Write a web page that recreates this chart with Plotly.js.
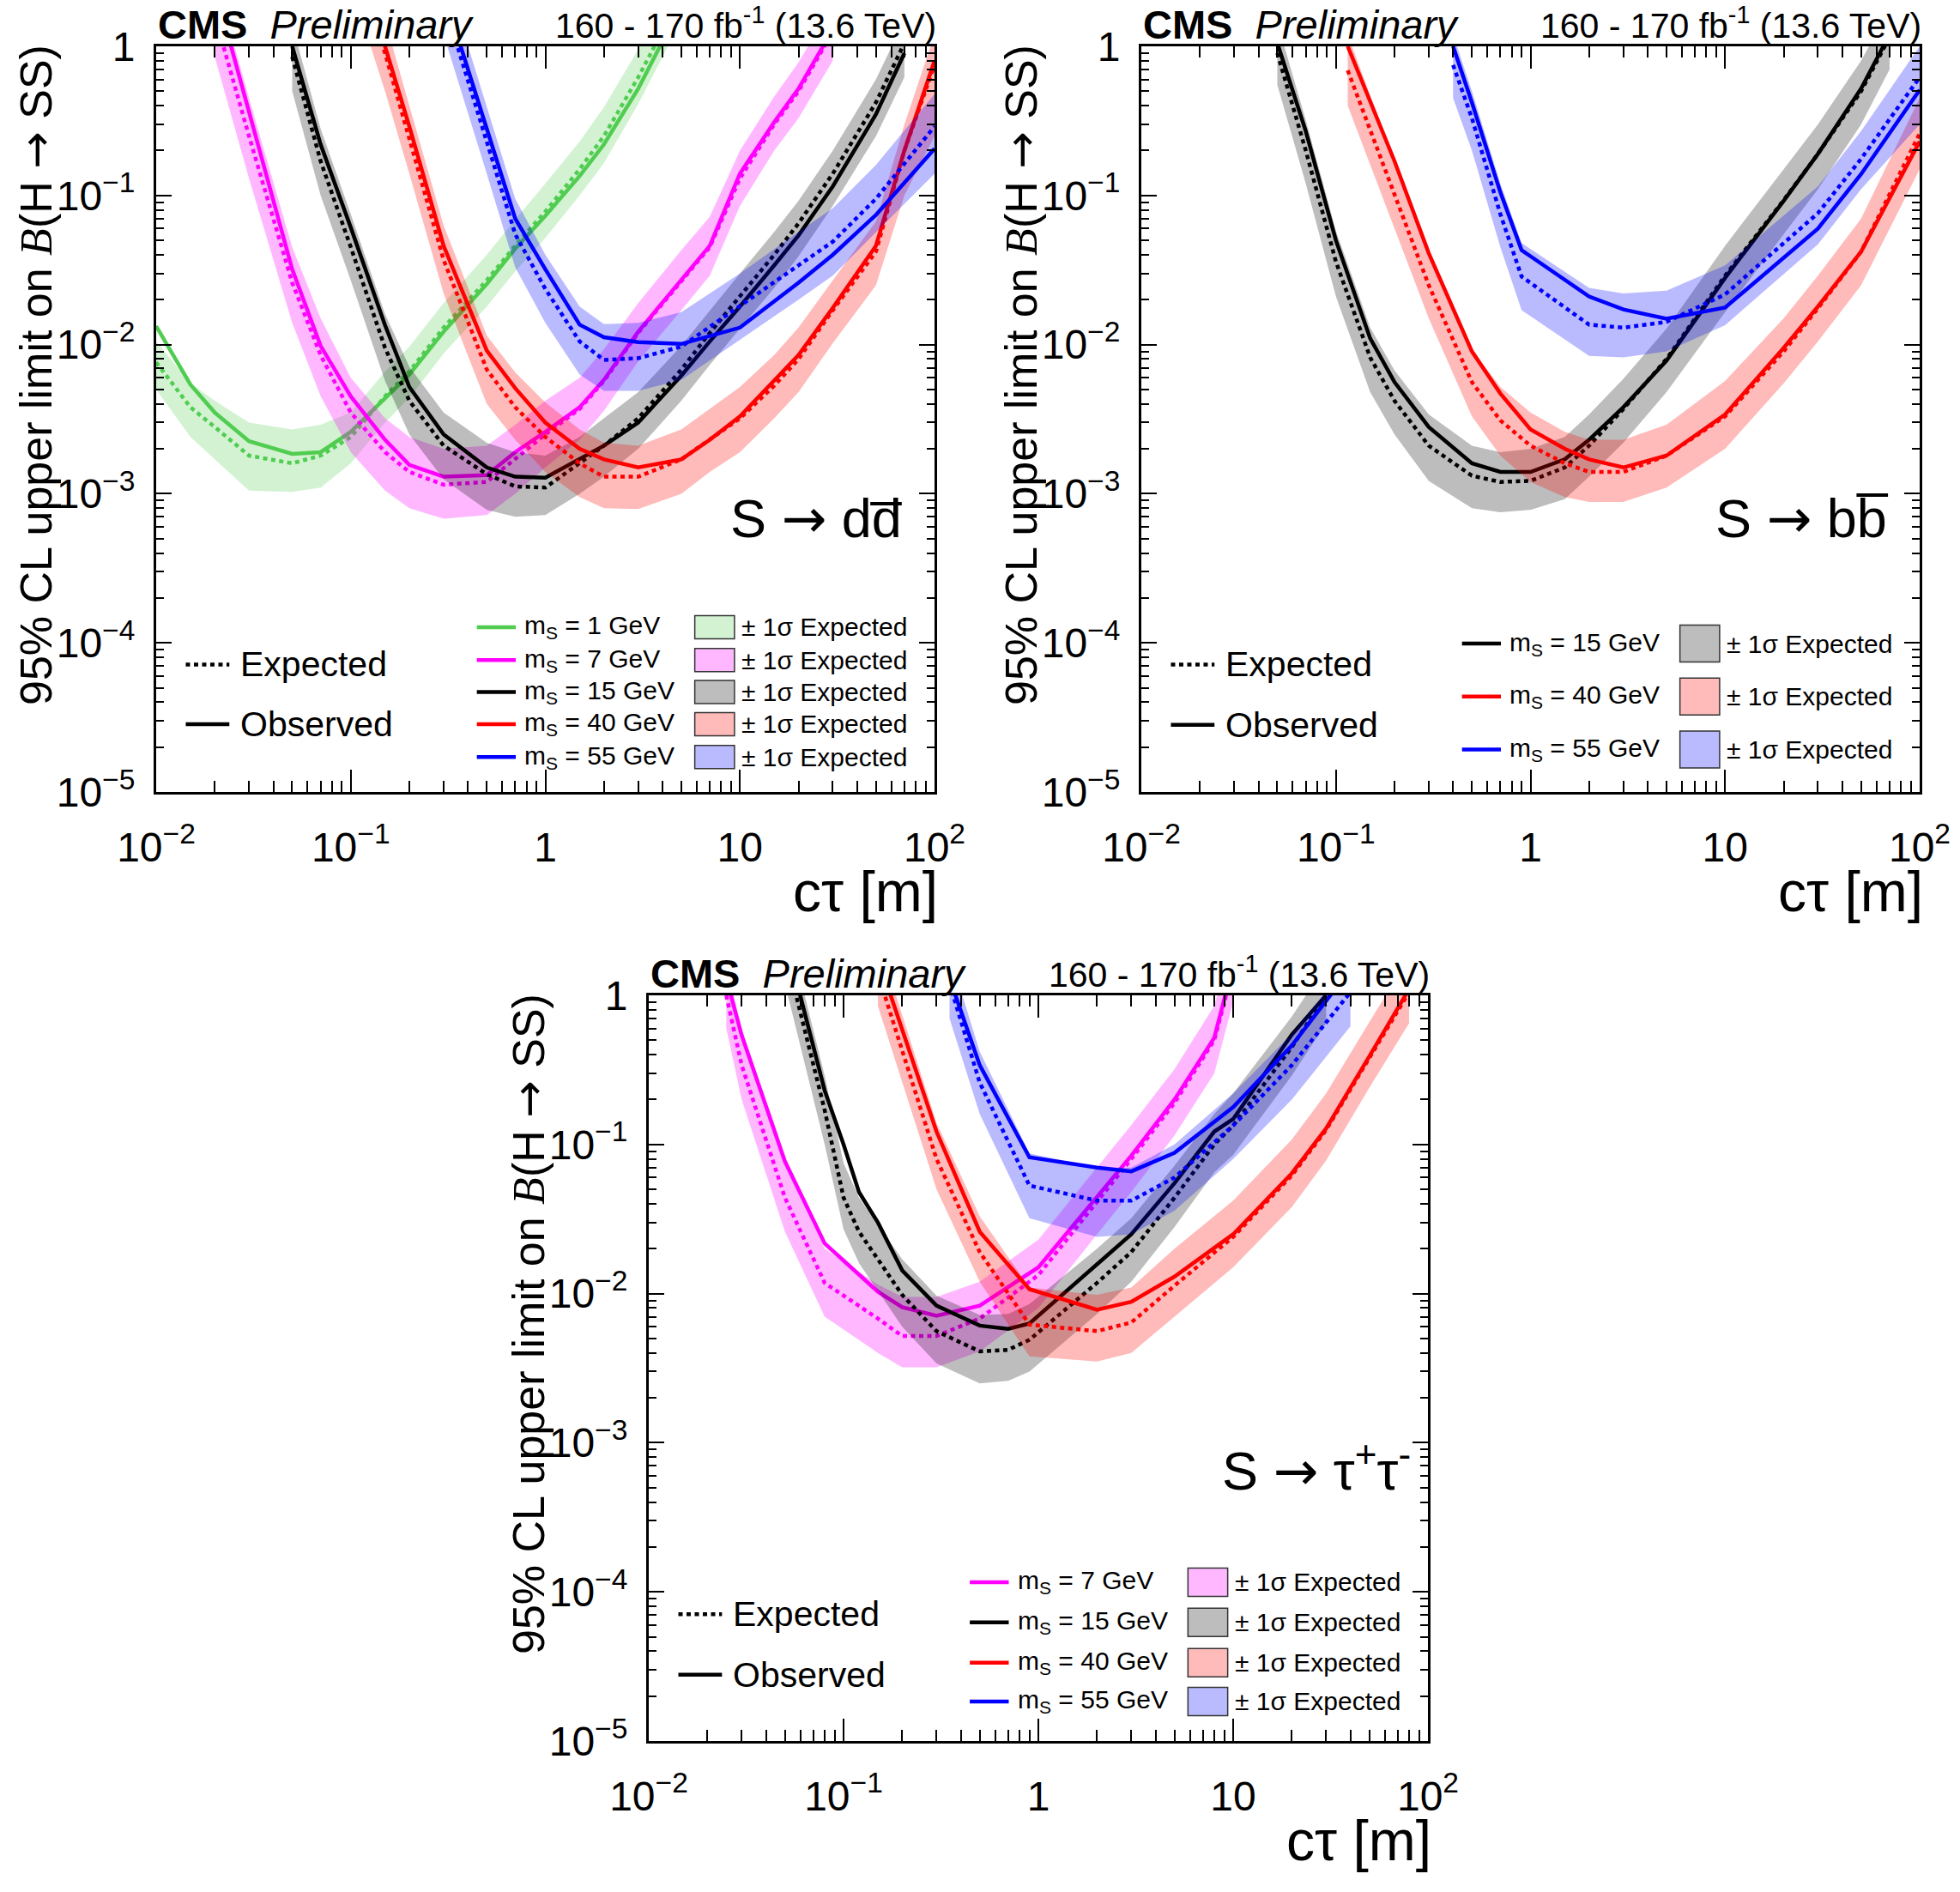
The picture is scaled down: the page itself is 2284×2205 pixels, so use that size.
<!DOCTYPE html>
<html>
<head>
<meta charset="utf-8">
<script src="https://cdn.plot.ly/plotly-3.0.1.min.js"></script>
<style>body{margin:0;background:#fff}</style>
</head>
<body>
<div id="chart" style="width:2284px;height:2205px"></div>
<script>
// ---------- S -> d dbar ----------
var dd_m1_ct  = [0.01, 0.015, 0.02, 0.03, 0.05, 0.07, 0.1, 0.15, 0.2, 0.3, 0.5, 0.7, 1, 1.5, 2, 3, 5]
var dd_m1_obs = [0.0133, 0.0054, 0.0035, 0.00225, 0.00185, 0.0019, 0.0026, 0.0044, 0.0063, 0.0122, 0.0255, 0.044, 0.073, 0.135, 0.22, 0.52, 1.9]
var dd_m1_exp = [0.0076, 0.0038, 0.0028, 0.0018, 0.0016, 0.0018, 0.0024, 0.0045, 0.0066, 0.013, 0.027, 0.046, 0.078, 0.15, 0.25, 0.62, 2.2]
var dd_m1_hi  = [0.0105, 0.0055, 0.0042, 0.003, 0.0027, 0.0029, 0.0035, 0.0066, 0.0097, 0.019, 0.04, 0.069, 0.12, 0.23, 0.39, 0.95, 3.3]
var dd_m1_lo  = [0.005, 0.0024, 0.0017, 0.00105, 0.00103, 0.0011, 0.0016, 0.003, 0.0044, 0.0087, 0.018, 0.031, 0.052, 0.1, 0.165, 0.41, 1.5]

var dd_m7_ct  = [0.02, 0.03, 0.05, 0.07, 0.1, 0.15, 0.2, 0.3, 0.5, 0.7, 1, 1.5, 2, 3, 5, 7, 10, 15, 20, 30]
var dd_m7_obs = [2.5, 0.37, 0.032, 0.0098, 0.0045, 0.0023, 0.00156, 0.0013, 0.00133, 0.0019, 0.0026, 0.0038, 0.0058, 0.0122, 0.0274, 0.046, 0.14, 0.31, 0.52, 1.3]
var dd_m7_exp = [1.6, 0.25, 0.026, 0.0085, 0.0035, 0.0019, 0.0014, 0.00115, 0.0012, 0.0017, 0.0025, 0.0037, 0.0057, 0.012, 0.027, 0.045, 0.13, 0.3, 0.5, 1.25]
var dd_m7_hi  = [3, 0.45, 0.045, 0.015, 0.006, 0.0032, 0.0024, 0.002, 0.0021, 0.0029, 0.0042, 0.006, 0.0093, 0.019, 0.043, 0.072, 0.2, 0.46, 0.78, 1.9]
var dd_m7_lo  = [0.85, 0.13, 0.014, 0.0045, 0.0019, 0.00105, 0.0008, 0.00068, 0.00072, 0.001, 0.0015, 0.0023, 0.0036, 0.0077, 0.017, 0.029, 0.085, 0.2, 0.33, 0.8]

var dd_m15_ct  = [0.05, 0.07, 0.1, 0.15, 0.2, 0.3, 0.5, 0.7, 1, 1.5, 2, 3, 5, 7, 10, 15, 20, 30, 50, 70]
var dd_m15_obs = [1.0, 0.22, 0.061, 0.0135, 0.0052, 0.0025, 0.0015, 0.0013, 0.00128, 0.0017, 0.0021, 0.003, 0.0062, 0.0105, 0.018, 0.034, 0.054, 0.115, 0.35, 0.9]
var dd_m15_exp = [0.85, 0.17, 0.045, 0.0095, 0.0042, 0.0021, 0.00135, 0.00112, 0.0011, 0.0016, 0.0021, 0.0032, 0.0068, 0.012, 0.021, 0.04, 0.065, 0.14, 0.42, 1.05]
var dd_m15_hi  = [1.4, 0.28, 0.075, 0.016, 0.0071, 0.0035, 0.0022, 0.0019, 0.0018, 0.0024, 0.0032, 0.0048, 0.0098, 0.017, 0.03, 0.057, 0.092, 0.2, 0.6, 1.5]
var dd_m15_lo  = [0.5, 0.1, 0.027, 0.0057, 0.0025, 0.00125, 0.00078, 0.0007, 0.00072, 0.001, 0.0013, 0.002, 0.0042, 0.0073, 0.0128, 0.024, 0.039, 0.085, 0.25, 0.62]

var dd_m40_ct  = [0.1, 0.15, 0.2, 0.3, 0.5, 0.7, 1, 1.5, 2, 3, 5, 7, 10, 15, 20, 30, 50, 70, 100]
var dd_m40_obs = [5, 1.0, 0.29, 0.046, 0.0091, 0.0051, 0.003, 0.002, 0.0017, 0.0015, 0.0017, 0.0023, 0.0033, 0.0057, 0.0085, 0.0176, 0.046, 0.2, 0.8]
var dd_m40_exp = [4.5, 0.9, 0.24, 0.037, 0.0068, 0.0038, 0.0024, 0.0016, 0.0013, 0.0013, 0.0017, 0.0023, 0.0032, 0.0053, 0.008, 0.017, 0.042, 0.2, 0.75]
var dd_m40_hi  = [7, 1.5, 0.4, 0.063, 0.0115, 0.0065, 0.0041, 0.0027, 0.0022, 0.0021, 0.0027, 0.0037, 0.0052, 0.0085, 0.013, 0.027, 0.067, 0.3, 1.2]
var dd_m40_lo  = [2.6, 0.5, 0.14, 0.022, 0.004, 0.0023, 0.0014, 0.00095, 0.0008, 0.00079, 0.001, 0.0014, 0.0019, 0.0032, 0.0048, 0.0102, 0.025, 0.1, 0.25]

var dd_m55_ct  = [0.3, 0.5, 0.7, 1, 1.5, 2, 3, 5, 10, 20, 30, 50, 100]
var dd_m55_obs = [2.3, 0.28, 0.07, 0.032, 0.0136, 0.0112, 0.0104, 0.0101, 0.013, 0.026, 0.04, 0.074, 0.206]
var dd_m55_exp = [2.0, 0.23, 0.055, 0.0236, 0.0105, 0.0079, 0.0081, 0.0097, 0.018, 0.034, 0.049, 0.095, 0.29]
var dd_m55_hi  = [3.4, 0.4, 0.095, 0.04, 0.018, 0.0137, 0.014, 0.0165, 0.03, 0.057, 0.082, 0.16, 0.48]
var dd_m55_lo  = [1.2, 0.14, 0.033, 0.014, 0.0063, 0.0049, 0.0049, 0.0058, 0.0108, 0.02, 0.029, 0.057, 0.14]

// ---------- S -> b bbar ----------
var bb_m15_ct  = [0.05, 0.07, 0.1, 0.15, 0.2, 0.3, 0.5, 0.7, 1, 1.5, 2, 3, 5, 10, 20, 30, 50, 70]
var bb_m15_obs = [1.05, 0.27, 0.05, 0.011, 0.0056, 0.0028, 0.0016, 0.0014, 0.0014, 0.0017, 0.0023, 0.0038, 0.0078, 0.028, 0.092, 0.19, 0.52, 1.2]
var bb_m15_exp = [0.9, 0.2, 0.036, 0.0082, 0.0042, 0.0021, 0.00132, 0.0012, 0.00122, 0.0015, 0.0021, 0.0037, 0.008, 0.029, 0.093, 0.19, 0.5, 1.15]
var bb_m15_hi  = [1.45, 0.32, 0.058, 0.013, 0.0067, 0.0034, 0.0021, 0.0019, 0.002, 0.0024, 0.0034, 0.0059, 0.0128, 0.046, 0.15, 0.3, 0.8, 1.8]
var bb_m15_lo  = [0.55, 0.12, 0.021, 0.0048, 0.0025, 0.00122, 0.0008, 0.00075, 0.00078, 0.00092, 0.0013, 0.0022, 0.0048, 0.0165, 0.055, 0.11, 0.3, 0.7]

var bb_m40_ct  = [0.115, 0.2, 0.3, 0.5, 0.7, 1, 1.5, 2, 3, 5, 10, 20, 30, 50, 100]
var bb_m40_obs = [1.0, 0.17, 0.041, 0.009, 0.0047, 0.0027, 0.002, 0.0017, 0.0015, 0.0018, 0.0034, 0.0095, 0.018, 0.042, 0.23]
var bb_m40_exp = [0.69, 0.1, 0.025, 0.0056, 0.0031, 0.0021, 0.0016, 0.0014, 0.0014, 0.0018, 0.0033, 0.009, 0.0175, 0.042, 0.26]
var bb_m40_hi  = [1.2, 0.17, 0.042, 0.0092, 0.0052, 0.0035, 0.0026, 0.0023, 0.0023, 0.0029, 0.0057, 0.015, 0.029, 0.07, 0.45]
var bb_m40_lo  = [0.4, 0.06, 0.015, 0.0033, 0.0018, 0.0012, 0.00095, 0.00088, 0.00088, 0.0011, 0.002, 0.0055, 0.0105, 0.025, 0.15]

var bb_m55_ct  = [0.4, 0.5, 0.7, 0.9, 2, 3, 5, 10, 30, 50, 100]
var bb_m55_obs = [1.0, 0.42, 0.105, 0.043, 0.021, 0.0172, 0.0149, 0.0177, 0.06, 0.139, 0.51]
var bb_m55_exp = [0.75, 0.33, 0.075, 0.0286, 0.0136, 0.013, 0.0142, 0.0217, 0.076, 0.176, 0.62]
var bb_m55_hi  = [1.2, 0.5, 0.12, 0.048, 0.024, 0.022, 0.023, 0.034, 0.115, 0.27, 1.0]
var bb_m55_lo  = [0.45, 0.2, 0.045, 0.017, 0.0084, 0.0082, 0.009, 0.0135, 0.047, 0.11, 0.3]

// ---------- S -> tau tau ----------
var tt_m7_ct  = [0.025, 0.03, 0.05, 0.08, 0.15, 0.2, 0.3, 0.5, 1, 2, 3, 5, 8, 10]
var tt_m7_obs = [1.3, 0.54, 0.077, 0.0217, 0.0103, 0.0081, 0.0071, 0.0083, 0.015, 0.044, 0.084, 0.2, 0.52, 1.6]
var tt_m7_exp = [1.0, 0.34, 0.044, 0.0118, 0.0068, 0.0052, 0.0052, 0.0068, 0.0133, 0.041, 0.08, 0.19, 0.5, 1.5]
var tt_m7_hi  = [1.7, 0.58, 0.075, 0.02, 0.0115, 0.0095, 0.0095, 0.012, 0.023, 0.07, 0.135, 0.32, 0.85, 2.5]
var tt_m7_lo  = [0.6, 0.2, 0.026, 0.007, 0.004, 0.0032, 0.0032, 0.0041, 0.008, 0.025, 0.048, 0.115, 0.3, 0.9]

var tt_m15_ct  = [0.05, 0.08, 0.1, 0.12, 0.15, 0.2, 0.3, 0.5, 0.7, 0.9, 2, 3, 5, 8, 10, 20, 30]
var tt_m15_obs = [2.5, 0.23, 0.1, 0.048, 0.03, 0.0143, 0.0083, 0.0061, 0.0058, 0.0063, 0.0157, 0.025, 0.055, 0.122, 0.148, 0.545, 1.0]
var tt_m15_exp = [2.0, 0.17, 0.044, 0.026, 0.017, 0.0098, 0.0056, 0.0041, 0.0042, 0.0049, 0.0118, 0.019, 0.044, 0.1, 0.134, 0.45, 1.0]
var tt_m15_hi  = [3.4, 0.29, 0.075, 0.044, 0.029, 0.017, 0.0097, 0.0072, 0.0073, 0.0085, 0.02, 0.032, 0.072, 0.16, 0.22, 0.72, 1.6]
var tt_m15_lo  = [1.2, 0.1, 0.027, 0.016, 0.0105, 0.006, 0.0034, 0.0025, 0.0026, 0.003, 0.0073, 0.012, 0.028, 0.065, 0.085, 0.29, 0.65]

var tt_m40_ct  = [0.15, 0.3, 0.5, 0.9, 2, 3, 5, 10, 20, 30, 50, 80]
var tt_m40_obs = [1.8, 0.122, 0.026, 0.0107, 0.0078, 0.0088, 0.013, 0.025, 0.064, 0.128, 0.39, 1.1]
var tt_m40_exp = [1.4, 0.08, 0.019, 0.0062, 0.0056, 0.0064, 0.0113, 0.024, 0.062, 0.125, 0.38, 1.05]
var tt_m40_hi  = [2.4, 0.14, 0.033, 0.011, 0.0098, 0.011, 0.02, 0.042, 0.108, 0.22, 0.66, 1.8]
var tt_m40_lo  = [0.85, 0.05, 0.012, 0.0038, 0.0035, 0.004, 0.007, 0.015, 0.038, 0.078, 0.24, 0.65]

var tt_m55_ct  = [0.35, 0.5, 0.9, 2, 3, 5, 10, 20, 40]
var tt_m55_obs = [1.3, 0.34, 0.082, 0.07, 0.066, 0.088, 0.178, 0.46, 1.5]
var tt_m55_exp = [1.2, 0.26, 0.053, 0.042, 0.042, 0.06, 0.134, 0.34, 1.05]
var tt_m55_hi  = [1.9, 0.42, 0.087, 0.07, 0.07, 0.1, 0.22, 0.55, 1.7]
var tt_m55_lo  = [0.7, 0.16, 0.032, 0.024, 0.025, 0.036, 0.08, 0.2, 0.62]

// labels
var massLabels = {1: 'm<sub>S</sub> = 1 GeV', 7: 'm<sub>S</sub> = 7 GeV', 15: 'm<sub>S</sub> = 15 GeV', 40: 'm<sub>S</sub> = 40 GeV', 55: 'm<sub>S</sub> = 55 GeV'}
var bandLabel = '\u00b1 1\u03c3 Expected'
var xTickVals = [0.01, 0.1, 1, 10, 100]
var xTickText = ['10<sup>\u22122</sup>', '10<sup>\u22121</sup>', '1', '10', '10<sup>2</sup>']
var yTickVals = [1e-5, 1e-4, 1e-3, 1e-2, 1e-1, 1]
var yTickText = ['10<sup>\u22125</sup>', '10<sup>\u22124</sup>', '10<sup>\u22123</sup>', '10<sup>\u22122</sup>', '10<sup>\u22121</sup>', '1']

var lineColor = {1: 'rgb(80,205,80)', 7: 'rgb(255,0,255)', 15: 'rgb(0,0,0)', 40: 'rgb(255,0,0)', 55: 'rgb(0,0,255)'}
var bandColor = {1: 'rgba(80,205,80,0.26)', 7: 'rgba(255,0,255,0.28)', 15: 'rgba(0,0,0,0.26)', 40: 'rgba(255,0,0,0.27)', 55: 'rgba(0,0,255,0.27)'}

var W = 2284, H = 2205
var FONT = 'Liberation Sans, Arial, sans-serif'
var ARROW = '<span style="font-family:DejaVu Sans">\u2192</span>'
var DOTS = '5px,4.5px'

var panels = [
  {frame: [182, 54, 1089, 923], proc: 'S ' + ARROW + ' dd\u0305', procX: 0.96,
   curves: [
     [1, dd_m1_ct, dd_m1_obs, dd_m1_exp, dd_m1_hi, dd_m1_lo],
     [7, dd_m7_ct, dd_m7_obs, dd_m7_exp, dd_m7_hi, dd_m7_lo],
     [15, dd_m15_ct, dd_m15_obs, dd_m15_exp, dd_m15_hi, dd_m15_lo],
     [40, dd_m40_ct, dd_m40_obs, dd_m40_exp, dd_m40_hi, dd_m40_lo],
     [55, dd_m55_ct, dd_m55_obs, dd_m55_exp, dd_m55_hi, dd_m55_lo]],
   leg: {rows: [0.829, 0.909], massRows: [0.779, 0.823, 0.866, 0.909, 0.953], boxH: 27}},
  {frame: [1330, 54, 2237, 923], proc: 'S ' + ARROW + ' bb\u0305', procX: 0.962,
   curves: [
     [15, bb_m15_ct, bb_m15_obs, bb_m15_exp, bb_m15_hi, bb_m15_lo],
     [40, bb_m40_ct, bb_m40_obs, bb_m40_exp, bb_m40_hi, bb_m40_lo],
     [55, bb_m55_ct, bb_m55_obs, bb_m55_exp, bb_m55_hi, bb_m55_lo]],
   leg: {rows: [0.829, 0.910], massRows: [0.801, 0.872, 0.943], boxH: 43}},
  {frame: [756, 1160, 1664, 2029], proc: 'S ' + ARROW + ' \u03c4<sup>+</sup>\u03c4<sup>-</sup>', procX: 0.98,
   curves: [
     [7, tt_m7_ct, tt_m7_obs, tt_m7_exp, tt_m7_hi, tt_m7_lo],
     [15, tt_m15_ct, tt_m15_obs, tt_m15_exp, tt_m15_hi, tt_m15_lo],
     [40, tt_m40_ct, tt_m40_obs, tt_m40_exp, tt_m40_hi, tt_m40_lo],
     [55, tt_m55_ct, tt_m55_obs, tt_m55_exp, tt_m55_hi, tt_m55_lo]],
   leg: {rows: [0.830, 0.911], massRows: [0.787, 0.841, 0.895, 0.947], boxH: 33}}
]

function minorVals() {
  var out = []
  for (var e = -5; e < 2; e++) {
    for (var k = 2; k < 10; k++) out.push(k * Math.pow(10, e))
  }
  return out
}

var traces = []
var layout = {
  width: W, height: H,
  margin: {l: 0, r: 0, t: 0, b: 0},
  paper_bgcolor: '#fff', plot_bgcolor: '#fff',
  showlegend: false,
  font: {family: FONT, color: '#000'},
  annotations: [], shapes: []
}

panels.forEach(function (p, i) {
  var n = i === 0 ? '' : String(i + 1)
  var fx0 = p.frame[0], fy0 = p.frame[1], fx1 = p.frame[2], fy1 = p.frame[3]
  var X = function (f) { return (fx0 + f * (fx1 - fx0)) / W }
  var Y = function (f) { return 1 - (fy0 + f * (fy1 - fy0)) / H }

  var common = {
    type: 'log', showgrid: false, zeroline: false,
    showline: true, linecolor: '#000', linewidth: 3, mirror: 'allticks',
    ticks: 'inside', tickwidth: 2, tickcolor: '#000', tickmode: 'array',
    tickfont: {family: FONT, size: 48, color: '#000'}
  }
  layout['xaxis' + n] = Object.assign({}, common, {
    domain: [fx0 / W, fx1 / W], anchor: 'y' + n, range: [-2, 2],
    tickvals: xTickVals, ticktext: xTickText, ticklen: 26, ticklabelstandoff: 20,
    minor: {ticks: 'inside', ticklen: 13, tickwidth: 2, tickcolor: '#000', tickvals: minorVals(), showgrid: false}
  })
  layout['yaxis' + n] = Object.assign({}, common, {
    domain: [1 - fy1 / H, 1 - fy0 / H], anchor: 'x' + n, range: [-5, 0],
    tickvals: yTickVals, ticktext: yTickText, ticklen: 18, ticklabelstandoff: 12,
    minor: {ticks: 'inside', ticklen: 9, tickwidth: 2, tickcolor: '#000', tickvals: minorVals(), showgrid: false}
  })

  p.curves.forEach(function (c) {
    var m = c[0], ct = c[1], obs = c[2], exp = c[3], hi = c[4], lo = c[5]
    traces.push({
      x: ct.concat(ct.slice().reverse()), y: hi.concat(lo.slice().reverse()),
      xaxis: 'x' + n, yaxis: 'y' + n, mode: 'lines', fill: 'toself',
      fillcolor: bandColor[m], line: {width: 0}, hoverinfo: 'skip'
    })
    traces.push({x: ct, y: exp, xaxis: 'x' + n, yaxis: 'y' + n, mode: 'lines',
      line: {color: lineColor[m], width: 4.5, dash: DOTS}})
    traces.push({x: ct, y: obs, xaxis: 'x' + n, yaxis: 'y' + n, mode: 'lines',
      line: {color: lineColor[m], width: 4.5}})
  })

  var ann = layout.annotations, shp = layout.shapes
  // header
  ann.push({xref: 'paper', yref: 'paper', x: X(0), y: Y(0), yshift: -3, xanchor: 'left', yanchor: 'bottom',
    text: '<b>CMS</b>\u00a0 <i>Preliminary</i>', showarrow: false, font: {size: 47}})
  ann.push({xref: 'paper', yref: 'paper', x: X(1) + 4 / W, y: Y(0), yshift: -1, xanchor: 'right', yanchor: 'bottom',
    text: '160 - 170 fb<sup>-1</sup> (13.6 TeV)', showarrow: false, font: {size: 41}})
  // axis titles
  ann.push({xref: 'paper', yref: 'paper', x: X(1) + 6 / W, y: Y(1) - 116 / H, xanchor: 'right', yanchor: 'middle',
    text: 'c\u03c4 [m]', showarrow: false, font: {size: 66}})
  ann.push({xref: 'paper', yref: 'paper', x: (fx0 - 140) / W, y: Y(0) + 4 / H, xanchor: 'center', yanchor: 'top',
    textangle: -90, showarrow: false, font: {size: 52},
    text: '95% CL upper limit on <span style="font-family:Liberation Serif;font-style:italic">B</span>(H ' + ARROW + ' SS)'})
  // process label
  ann.push({xref: 'paper', yref: 'paper', x: X(p.procX), y: Y(0.633), xanchor: 'right', yanchor: 'middle',
    text: p.proc, showarrow: false, font: {size: 63}})

  // legend: expected / observed
  var lg = p.leg
  ;[['Expected', DOTS], ['Observed', 'solid']].forEach(function (e, k) {
    shp.push({type: 'line', xref: 'paper', yref: 'paper', x0: X(0.038), x1: X(0.094), y0: Y(lg.rows[k]), y1: Y(lg.rows[k]),
      line: {color: '#000', width: 4.5, dash: e[1]}})
    ann.push({xref: 'paper', yref: 'paper', x: X(0.106), y: Y(lg.rows[k]), xanchor: 'left', yanchor: 'middle',
      text: e[0], showarrow: false, font: {size: 41}})
  })
  // legend: masses and bands
  p.curves.forEach(function (c, k) {
    var m = c[0], fy = lg.massRows[k]
    shp.push({type: 'line', xref: 'paper', yref: 'paper', x0: X(0.412), x1: X(0.462), y0: Y(fy), y1: Y(fy),
      line: {color: lineColor[m], width: 4.5}})
    ann.push({xref: 'paper', yref: 'paper', x: X(0.471), y: Y(fy), xanchor: 'left', yanchor: 'middle',
      text: massLabels[m], showarrow: false, font: {size: 30}})
    shp.push({type: 'rect', xref: 'paper', yref: 'paper', x0: X(0.692), x1: X(0.743),
      y0: Y(fy) - lg.boxH / 2 / H, y1: Y(fy) + lg.boxH / 2 / H,
      fillcolor: bandColor[m], line: {color: '#333', width: 1.5}})
    ann.push({xref: 'paper', yref: 'paper', x: X(0.750), y: Y(fy), xanchor: 'left', yanchor: 'middle',
      text: bandLabel, showarrow: false, font: {size: 30}})
  })
})

Plotly.newPlot('chart', traces, layout, {staticPlot: true})
</script>
</body>
</html>
